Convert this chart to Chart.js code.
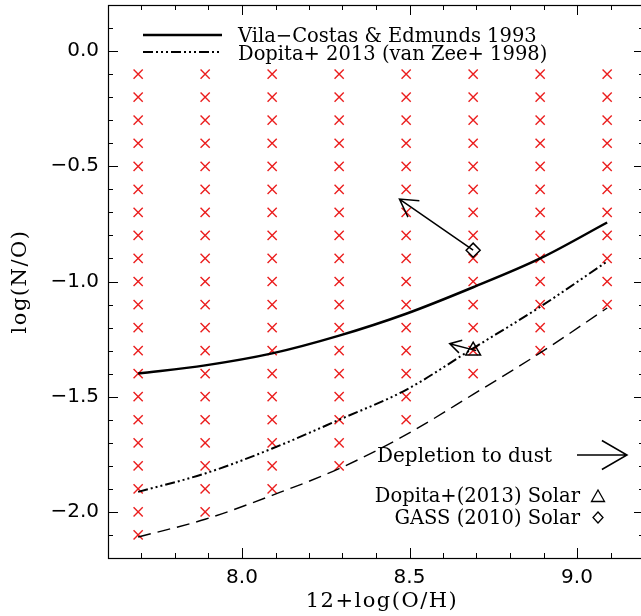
<!DOCTYPE html>
<html><head><meta charset="utf-8">
<script src="https://cdn.jsdelivr.net/npm/chart.js@4"></script>
<style>html,body{margin:0;padding:0;overflow:hidden;background:#fff}canvas{display:block}</style>
</head><body>
<canvas id="c" width="648" height="616"></canvas>
<script>
// ---------------- data ----------------
// model grid (red crosses): columns in 12+log(O/H); each runs from -0.1 down to the bottom value in 0.1 steps
const gridX = [7.69, 7.89, 8.09, 8.29, 8.49, 8.69, 8.89, 9.09];
const gridTopY = [-0.1, -0.1, -0.1, -0.1, -0.1, -0.1, -0.1, -0.1];
const gridBottomY = [-2.1, -2.0, -1.9, -1.8, -1.6, -1.4, -1.3, -1.1];

// relations
const curveX = [7.69, 7.89, 8.09, 8.29, 8.49, 8.69, 8.89, 9.09];
const vilaCostasY = [-1.399, -1.364, -1.312, -1.235, -1.14, -1.025, -0.90, -0.744];
const dopitaY = [-1.913, -1.833, -1.725, -1.60, -1.47, -1.29, -1.11, -0.913];
const lowerY = [-2.109, -2.032, -1.928, -1.812, -1.665, -1.49, -1.31, -1.115];

// solar abundances
const dopitaSolar = [8.69, -1.30];
const gassSolar = [8.69, -0.864];
// depletion arrows: [fromX, fromY, toX, toY]
const gassArrow = [8.69, -0.864, 8.47, -0.642];
const dopitaArrow = [8.69, -1.30, 8.62, -1.27];

// axis ticks
const xTicks = [8.0, 8.5, 9.0];
const yTicks = [0.0, -0.5, -1.0, -1.5, -2.0];
const xRange = [7.6, 9.2];
const yRange = [-2.2, 0.2];

// ---------------- build ----------------
const gridPts = [];
gridX.forEach((x, i) => {
  const n = Math.round((gridTopY[i] - gridBottomY[i]) * 10);
  for (let k = 0; k <= n; k++) gridPts.push({x, y: +(gridTopY[i] - k / 10).toFixed(2)});
});
const toPts = ys => curveX.map((x, i) => ({x, y: ys[i]}));

const fmt = v => (v < -1e-9 ? '\u2212' : '') + Math.abs(v).toFixed(1);
const dashDot3 = [10, 3, 2, 3, 2, 3, 2, 3];

function arrow(ctx, x0, y0, x1, y1, head) {
  const ang = Math.atan2(y1 - y0, x1 - x0);
  ctx.beginPath();
  ctx.moveTo(x0, y0); ctx.lineTo(x1, y1);
  const a = Math.PI / 6;
  ctx.moveTo(x1 - head * Math.cos(ang - a), y1 - head * Math.sin(ang - a));
  ctx.lineTo(x1, y1);
  ctx.lineTo(x1 - head * Math.cos(ang + a), y1 - head * Math.sin(ang + a));
  ctx.stroke();
}

const decor = {
  id: 'decor',
  afterDatasetsDraw(chart) {
    const {ctx, chartArea: a, scales: {x, y}} = chart;
    ctx.save();
    // frame
    ctx.strokeStyle = '#000'; ctx.lineWidth = 1.2;
    ctx.strokeRect(a.left + 0.5, a.top + 0.5, a.right - a.left, a.bottom - a.top);
    // inward ticks
    ctx.lineWidth = 1;
    ctx.beginPath();
    for (let i = 0; ; i++) {
      const v = xRange[0] + i * 0.1; if (v > xRange[1] + 1e-9) break;
      const major = Math.abs(v * 2 - Math.round(v * 2)) < 1e-6;
      const len = major ? 10 : 5;
      const px = Math.round(x.getPixelForValue(v)) + 0.5;
      ctx.moveTo(px, a.bottom); ctx.lineTo(px, a.bottom - len);
      ctx.moveTo(px, a.top); ctx.lineTo(px, a.top + len);
    }
    for (let i = 0; ; i++) {
      const v = yRange[0] + i * 0.1; if (v > yRange[1] + 1e-9) break;
      const major = Math.abs(v * 2 - Math.round(v * 2)) < 1e-6;
      const len = major ? 10 : 5;
      const py = Math.round(y.getPixelForValue(v)) + 0.5;
      ctx.moveTo(a.left, py); ctx.lineTo(a.left + len, py);
      ctx.moveTo(a.right, py); ctx.lineTo(a.right - len, py);
    }
    ctx.stroke();

    // arrows from solar points
    ctx.lineWidth = 1.5; ctx.strokeStyle = '#000';
    arrow(ctx, x.getPixelForValue(gassArrow[0]), y.getPixelForValue(gassArrow[1]),
      x.getPixelForValue(gassArrow[2]), y.getPixelForValue(gassArrow[3]), 20);
    arrow(ctx, x.getPixelForValue(dopitaArrow[0]) + 3, y.getPixelForValue(dopitaArrow[1]),
      x.getPixelForValue(dopitaArrow[2]), y.getPixelForValue(dopitaArrow[3]), 13);

    // legend
    ctx.fillStyle = '#000';
    ctx.font = '19.5px "DejaVu Serif"';
    ctx.textAlign = 'left'; ctx.textBaseline = 'alphabetic';
    ctx.lineWidth = 2.5; ctx.setLineDash([]);
    ctx.beginPath(); ctx.moveTo(a.left + 35, a.top + 30); ctx.lineTo(a.left + 114, a.top + 30); ctx.stroke();
    ctx.lineWidth = 2; ctx.setLineDash(dashDot3);
    ctx.beginPath(); ctx.moveTo(a.left + 35, a.top + 47); ctx.lineTo(a.left + 114, a.top + 47); ctx.stroke();
    ctx.setLineDash([]);
    ctx.fillText('Vila\u2212Costas & Edmunds 1993', a.left + 130, a.top + 37);
    ctx.fillText('Dopita+ 2013 (van Zee+ 1998)', a.left + 130, a.top + 54.5);

    // depletion annotation
    ctx.font = '20px "DejaVu Serif"';
    ctx.fillText('Depletion to dust', 377, 461.5);
    ctx.lineWidth = 1.5;
    arrow(ctx, 577, 455, 627, 455, 29);

    ctx.font = '19.5px "DejaVu Serif"';
    ctx.textAlign = 'right';
    ctx.fillText('Dopita+(2013) Solar', 580, 501.5);
    ctx.fillText('GASS (2010) Solar', 580, 524);
    ctx.lineWidth = 1.3;
    ctx.beginPath();
    ctx.moveTo(598, 490); ctx.lineTo(591.5, 501.5); ctx.lineTo(604.5, 501.5); ctx.closePath();
    ctx.stroke();
    ctx.beginPath();
    ctx.moveTo(598, 512); ctx.lineTo(603, 517.5); ctx.lineTo(598, 523); ctx.lineTo(593, 517.5); ctx.closePath();
    ctx.stroke();

    // axis titles
    ctx.font = '21px "DejaVu Serif"';
    try { ctx.letterSpacing = '1.5px'; } catch (e) {}
    ctx.textAlign = 'center';
    ctx.fillText('12+log(O/H)', (a.left + a.right) / 2 + 6, 607);
    ctx.translate(26, (a.top + a.bottom) / 2);
    ctx.rotate(-Math.PI / 2);
    ctx.fillText('log(N/O)', 0, 0);
    ctx.restore();
  }
};

const zeroPad = s => { s.paddingTop = 0; s.paddingBottom = 0; s.paddingLeft = 0; s.paddingRight = 0; };

new Chart(document.getElementById('c'), {
  type: 'scatter',
  data: {
    datasets: [
      {label: 'GASS (2010) Solar', data: [{x: gassSolar[0], y: gassSolar[1]}],
       pointStyle: 'rectRot', pointRadius: 7, pointBorderWidth: 1.5,
       pointBorderColor: '#000', pointBackgroundColor: '#fff'},
      {label: 'Dopita+(2013) Solar', data: [{x: dopitaSolar[0], y: dopitaSolar[1]}],
       pointStyle: 'triangle', pointRadius: 8.5, pointBorderWidth: 1.5,
       pointBorderColor: '#000', pointBackgroundColor: 'rgba(0,0,0,0)'},
      {label: 'Vila-Costas & Edmunds 1993', data: toPts(vilaCostasY), showLine: true,
       borderColor: '#000', borderWidth: 2.5, pointRadius: 0, cubicInterpolationMode: 'monotone'},
      {label: 'Dopita+ 2013 (van Zee+ 1998)', data: toPts(dopitaY), showLine: true,
       borderColor: '#000', borderWidth: 2, pointRadius: 0, cubicInterpolationMode: 'monotone',
       borderDash: dashDot3},
      {label: 'lower', data: toPts(lowerY), showLine: true,
       borderColor: '#000', borderWidth: 1.4, pointRadius: 0, cubicInterpolationMode: 'monotone',
       borderDash: [13, 7]},
      {label: 'grid', data: gridPts, pointStyle: 'crossRot', pointRadius: 6.5,
       pointBorderWidth: 1.4, pointBorderColor: 'rgb(235,30,30)', pointBackgroundColor: 'rgb(235,30,30)'}
    ]
  },
  options: {
    responsive: false, animation: false, devicePixelRatio: 1,
    layout: {autoPadding: false, padding: {top: 5, right: 4, left: 0, bottom: 0}},
    plugins: {legend: {display: false}, tooltip: {enabled: false}},
    events: [],
    scales: {
      x: {
        type: 'linear', min: xRange[0], max: xRange[1],
        afterBuildTicks: s => { s.ticks = xTicks.map(v => ({value: v})); },
        afterFit: s => { s.height = 58; zeroPad(s); },
        grid: {display: false, drawTicks: false}, border: {display: false},
        ticks: {callback: v => fmt(v), font: {family: 'DejaVu Sans', size: 20}, color: '#000', padding: 8, maxRotation: 0}
      },
      y: {
        type: 'linear', min: yRange[0], max: yRange[1],
        afterBuildTicks: s => { s.ticks = yTicks.map(v => ({value: v})); },
        afterFit: s => { s.width = 108; zeroPad(s); },
        grid: {display: false, drawTicks: false}, border: {display: false},
        ticks: {callback: v => fmt(v), font: {family: 'DejaVu Sans', size: 20}, color: '#000', padding: 9}
      }
    }
  },
  plugins: [decor]
});
</script>
</body></html>
